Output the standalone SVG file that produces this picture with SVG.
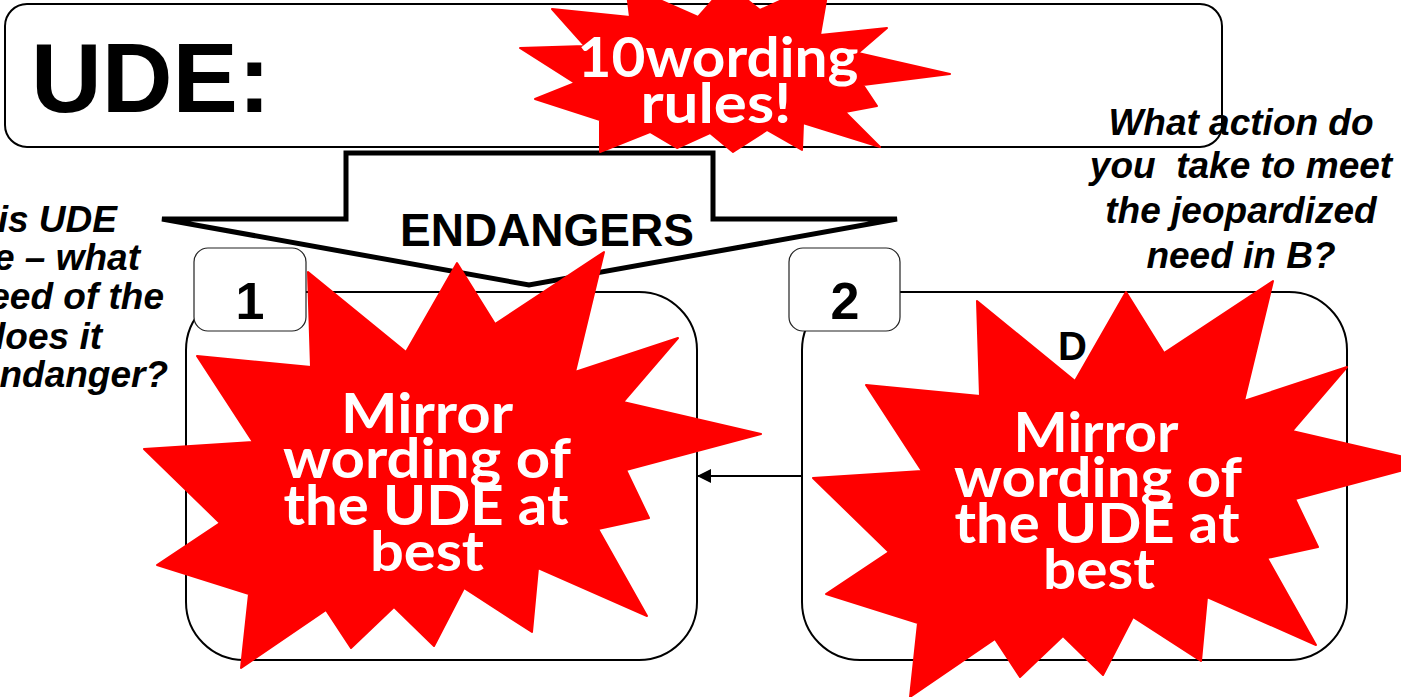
<svg xmlns="http://www.w3.org/2000/svg" xmlns:xlink="http://www.w3.org/1999/xlink" width="1401" height="697" viewBox="0 0 1401 697">
  <style>
    .frame { fill: #ffffff; stroke: #000000; stroke-width: 2; }
    .tag { fill: #ffffff; stroke: #222222; stroke-width: 1.2; }
    .block { fill: #ffffff; stroke: #000000; stroke-width: 5; stroke-linejoin: miter; }
    .burst { fill: #ff0000; stroke: #ff0000; stroke-width: 2; stroke-linejoin: round; }
    .head { font-family: "Liberation Sans", Arial, sans-serif; font-weight: bold; fill: #000000; }
    .ask { font-family: "Liberation Sans", Arial, sans-serif; font-weight: bold; font-style: italic; font-size: 37px; fill: #000000; }
    .ask-l { text-anchor: end; }
    .ask-r { text-anchor: middle; }
    .shout { font-family: Lato, "Noto Sans", sans-serif; font-weight: bold; font-size: 56px; fill: #ffffff; text-anchor: middle; }
    .link { fill: none; stroke: #000000; stroke-width: 2; }
  </style>
  <defs>
    <polygon id="burst-shape" points="308,272 406,352 457,263 495,324 604,252 575,372 678,338 623,402 761,434 626,470 649,518 598,529 647,616 538,568 532,632 464,588 434,646 394,607 351,648 326,610 241,668 249,594 157,565 220,523 144,449 253,442 197,356 311,367"/>
    <marker id="arrowhead" viewBox="0 0 14 14" refX="14" refY="7" markerWidth="14" markerHeight="14" markerUnits="userSpaceOnUse" orient="auto">
      <path d="M0,0 L14,7 L0,14 Z" fill="#000000"/>
    </marker>
  </defs>

  <rect width="1401" height="697" fill="#ffffff"/>

  <!-- UDE statement box -->
  <g id="node-ude">
    <rect class="frame" x="5" y="4" width="1217" height="143" rx="22"/>
    <text class="head" x="31" y="112" font-size="98">UDE:</text>
  </g>

  <!-- block arrow pointing down -->
  <g id="node-endangers">
    <polygon class="block" points="162,219 346,219 346,153 713,153 713,219 897,219 529,285"/>
    <text class="head" x="547" y="246" font-size="46" text-anchor="middle">ENDANGERS</text>
  </g>

  <!-- side questions -->
  <g id="note-left" class="ask ask-l">
    <text x="117" y="232">is UDE</text>
    <text x="140" y="270">e – what</text>
    <text x="164" y="309">eed of the</text>
    <text x="102" y="349">loes it</text>
    <text x="168" y="387">ndanger?</text>
  </g>

  <g id="note-right" class="ask ask-r">
    <text x="1241" y="135">What action do</text>
    <text x="1241" y="178">you&#160; take to meet</text>
    <text x="1241" y="223">the jeopardized</text>
    <text x="1241" y="268">need in B?</text>
  </g>

  <!-- wording-rules burst -->
  <g id="node-rules">
    <polygon class="burst" points="520,48 585,46 552,9 630,17 626,-15 698,17 727,-16 760,10 830,-22 820,35 887,28 858,53 950,74 863,85 877,106 845,112 880,147 803,123 802,150 767,130 733,152 710,133 677,148 650,132 600,152 600,120 535,99 575,83"/>
    <text class="shout" x="718" y="77" textLength="281" lengthAdjust="spacingAndGlyphs">10wording</text>
    <text class="shout" x="716" y="123" textLength="151" lengthAdjust="spacingAndGlyphs">rules!</text>
  </g>

  <!-- entity 1 -->
  <g id="node-1">
    <rect class="frame" x="186" y="292" width="511" height="368" rx="58"/>
    <rect class="tag" x="194" y="248" width="112" height="83" rx="14"/>
    <text class="head" x="250" y="319" font-size="52" text-anchor="middle">1</text>
  </g>

  <!-- entity 2 -->
  <g id="node-2">
    <rect class="frame" x="802" y="292" width="545" height="368" rx="58"/>
    <rect class="tag" x="789" y="248" width="111" height="83" rx="14"/>
    <text class="head" x="845" y="319" font-size="52" text-anchor="middle">2</text>
    <text class="head" x="1058" y="360" font-size="40">D</text>
  </g>

  <!-- connectors -->
  <g id="connectors">
    <line class="link" x1="802" y1="476" x2="697" y2="476" marker-end="url(#arrowhead)"/>
  </g>

  <!-- bursts over the entities -->
  <g id="node-burst-1">
    <use xlink:href="#burst-shape" class="burst"/>
    <text class="shout" x="427" y="433" textLength="172" lengthAdjust="spacingAndGlyphs">Mirror</text>
    <text class="shout" x="427" y="478" textLength="288" lengthAdjust="spacingAndGlyphs">wording of</text>
    <text class="shout" x="426" y="525" textLength="285" lengthAdjust="spacingAndGlyphs">the UDE at</text>
    <text class="shout" x="427" y="571" textLength="114" lengthAdjust="spacingAndGlyphs">best</text>
  </g>

  <g id="node-burst-2">
    <use xlink:href="#burst-shape" class="burst" transform="translate(669,29)"/>
    <text class="shout" x="1096" y="452" textLength="165" lengthAdjust="spacingAndGlyphs">Mirror</text>
    <text class="shout" x="1098" y="497" textLength="288" lengthAdjust="spacingAndGlyphs">wording of</text>
    <text class="shout" x="1097" y="543" textLength="285" lengthAdjust="spacingAndGlyphs">the UDE at</text>
    <text class="shout" x="1099" y="589" textLength="112" lengthAdjust="spacingAndGlyphs">best</text>
  </g>
</svg>
